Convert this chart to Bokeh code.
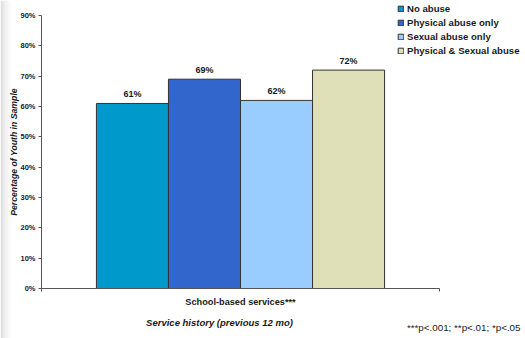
from bokeh.plotting import figure
from bokeh.models import Range1d, FixedTicker, Label, Legend, LegendItem, ColumnDataSource, BoxAnnotation
from bokeh.embed import file_html
from bokeh.resources import INLINE
from bokeh.core.properties import value
import math

# ---- data ----
group_label = "School-based services***"
series = ["No abuse", "Physical abuse only", "Sexual abuse only", "Physical & Sexual abuse"]
values = [61, 69, 62, 72]
colors = ["#0099CC", "#3366CC", "#99CCFF", "#E0E0B8"]
y_ticks = [0, 10, 20, 30, 40, 50, 60, 70, 80, 90]
x_title = "Service history (previous 12 mo)"
y_title = "Percentage of Youth in Sample"
footnote = "***p<.001; **p<.01; *p<.05"

FONT = "Liberation Sans"
TXT = "#1a1a1a"
W, H = 525, 338
# pixel layout of the plotting area (axis box) inside the page
ax_left, ax_right, ax_top, ax_bottom = 41, 439, 15, 288
y_max = 90
px_x = ax_right - ax_left            # pixels per x unit (category spans 0..1)
px_y = (ax_bottom - ax_top) / y_max  # pixels per y unit

bar_w = 0.181
group_center = 0.5
n = len(series)
xs = [group_center + (i - (n - 1) / 2) * bar_w for i in range(n)]

p = figure(width=W, height=H, output_backend="svg", toolbar_location=None,
           x_range=Range1d(-ax_left / px_x, (W - ax_left) / px_x),
           y_range=Range1d(-(H - ax_bottom) / px_y, y_max + ax_top / px_y),
           min_border_left=0, min_border_right=0, min_border_top=0, min_border_bottom=0)
p.outline_line_color = None
p.grid.grid_line_color = None
p.background_fill_color = "white"
p.border_fill_color = "white"

# faint grey strip at the left page edge
for i, c in enumerate(["#e2e2e2", "#ebebeb", "#f3f3f3", "#f9f9f9"]):
    p.add_layout(BoxAnnotation(left=i * 2.5, right=(i + 1) * 2.5, left_units="screen",
                               right_units="screen", fill_color=c, fill_alpha=1,
                               line_color=None, level="underlay"))

renderers = []
for i in range(n):
    src = ColumnDataSource(dict(x=[xs[i]], top=[values[i]], lab=[f"{values[i]}%"]))
    r = p.vbar(x="x", top="top", width=bar_w, bottom=0, source=src,
               fill_color=colors[i], line_color="#333333", line_width=1)
    renderers.append(r)
    p.text(x="x", y="top", text="lab", source=src, text_align="center",
           text_baseline="middle", y_offset=-9, text_font=value(FONT),
           text_font_size="9px", text_font_style="bold", text_color=TXT)

# y axis
yax = p.yaxis[0]
yax.fixed_location = 0
yax.bounds = (0, y_max)
yax.ticker = FixedTicker(ticks=y_ticks)
yax.major_label_overrides = {t: f"{t}%" for t in y_ticks}
yax.major_label_text_font = FONT
yax.major_label_text_font_size = "7.5px"
yax.major_label_text_font_style = "bold"
yax.major_label_text_color = TXT
yax.major_tick_out = 3
yax.major_tick_in = 0
yax.minor_tick_out = 0
yax.minor_tick_in = 0
yax.major_label_standoff = 3
yax.axis_line_color = "#555555"
yax.major_tick_line_color = "#555555"

# x axis
xax = p.xaxis[0]
xax.fixed_location = 0
xax.bounds = (0, 1)
xax.ticker = FixedTicker(ticks=[group_center], minor_ticks=[0, 1])
xax.major_label_overrides = {group_center: group_label}
xax.major_label_text_font = FONT
xax.major_label_text_font_size = "9.2px"
xax.major_label_text_font_style = "bold"
xax.major_label_text_color = TXT
xax.major_label_standoff = 5
xax.major_tick_out = 0
xax.major_tick_in = 0
xax.minor_tick_out = 3
xax.minor_tick_in = 0
xax.axis_line_color = "#555555"
xax.minor_tick_line_color = "#555555"

# texts
p.add_layout(Label(x=-28 / px_x, y=y_max / 2, text=y_title, angle=math.pi / 2,
                   text_align="center", text_baseline="middle", text_font=FONT,
                   text_font_size="8.7px", text_font_style="bold italic", text_color=TXT))
p.add_layout(Label(x=(219 - ax_left) / px_x, y=0, y_offset=-34, text=x_title, text_align="center",
                   text_baseline="middle", text_font=FONT, text_font_size="9.5px",
                   text_font_style="bold italic", text_color=TXT))
p.add_layout(Label(x=(520 - ax_left) / px_x, y=0, y_offset=-39, text=footnote, text_align="right",
                   text_baseline="middle", text_font=FONT, text_font_size="9.8px",
                   text_font_style="normal", text_color=TXT))

legend = Legend(items=[LegendItem(label=series[i], renderers=[renderers[i]]) for i in range(n)],
                location=(397, H - 57), padding=0, margin=0, spacing=0,
                glyph_width=7, glyph_height=7, label_height=14, label_standoff=3,
                label_text_font=FONT, label_text_font_size="9.6px",
                label_text_font_style="bold", label_text_color=TXT,
                border_line_color=None, background_fill_alpha=0)
p.add_layout(legend, "center")

open("out.html", "w").write(file_html(p, INLINE))
